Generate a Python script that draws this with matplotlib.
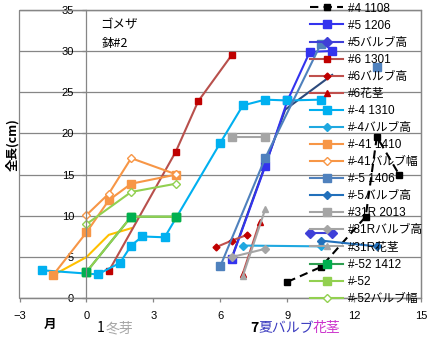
import matplotlib
matplotlib.use('Agg')
import matplotlib.pyplot as plt
import numpy as np
from matplotlib.patches import Rectangle

plt.rcParams['font.family'] = ['Liberation Sans', 'Noto Sans CJK JP', 'DejaVu Sans']
plt.rcParams['axes.unicode_minus'] = True

# ---------------- data ----------------
s4_1108_x = [9, 10.5, 12.5, 13, 14]
s4_1108_y = [2.0, 3.8, 9.9, 19.6, 15.0]

s5_1206_x = [6.5, 8, 9, 10, 11]
s5_1206_y = [4.8, 16.0, 24.0, 29.9, 30.0]

s5_bulb_x = [10, 11]
s5_bulb_y = [7.9, 7.9]

s6_1301_x = [1, 4, 5, 6.5]
s6_1301_y = [3.3, 17.8, 23.9, 29.5]

s6_bulb_x = [5.8, 6.5, 7.2]
s6_bulb_y = [6.2, 7.0, 7.7]

s6_stem_x = [7, 7.75]
s6_stem_y = [3.0, 9.2]

sm4_1310_x = [-2, 0.5, 1.5, 2, 2.5, 3.5, 6, 7, 8, 9, 10.5]
sm4_1310_y = [3.4, 2.9, 4.3, 6.4, 7.5, 7.4, 18.9, 23.4, 24.1, 24.0, 24.1]

sm4_bulb_x = [7, 10.5]
sm4_bulb_y = [6.4, 6.3]

sm41_1410_x = [-1.5, 0, 1, 2, 4]
sm41_1410_y = [2.8, 8.0, 11.9, 13.9, 15.0]

sm41_width_x = [0, 1, 2, 4]
sm41_width_y = [10.1, 12.7, 17.0, 15.05]

sm5_1406_x = [6, 8, 10.5, np.nan, 13]
sm5_1406_y = [3.95, 17.0, 30.9, np.nan, 28.1]

sm5_bulb_x = [10.5, 13]
sm5_bulb_y = [7.0, 6.3]

s31_2013_x = [6.5, 8]
s31_2013_y = [19.6, 19.6]

s31_bulb_x = [6.5, 8]
s31_bulb_y = [5.0, 6.0]

s31_stem_x = [7, 8]
s31_stem_y = [2.7, 10.8]

sm52_1412_x = [0, 2, 4]
sm52_1412_y = [3.2, 9.9, 9.9]

sm52_x = [0, 2, 4]
sm52_y = [3.2, 9.9, 9.9]

sm52_width_x = [0, 2, 4]
sm52_width_y = [9.0, 12.9, 13.9]

yellow_x = [-1.5, 0, 1, 2]
yellow_y = [2.8, 5.0, 7.7, 8.5]

navy_x = [6.5, 8.9, 11]
navy_y = [4.9, 22.9, 27.1]

x_ticks = [-3, 0, 3, 6, 9, 12, 15]
y_ticks = [0, 5, 10, 15, 20, 25, 30, 35]

# ---------------- figure ----------------
W, H = 439, 341
fig = plt.figure(figsize=(W / 100, H / 100), dpi=100)
ax = fig.add_axes([19.5 / W, 1 - 298.3 / H, 402 / W, 288.5 / H])
GRAY = '#868686'

ax.set_xlim(-3, 15)
ax.set_ylim(0, 35)

ax.set_yticks(y_ticks)
ax.set_xticks(x_ticks)
ax.yaxis.grid(True, color=GRAY, lw=0.9)
ax.set_axisbelow(True)

for sp in ['top', 'right', 'bottom']:
    ax.spines[sp].set_color(GRAY)
    ax.spines[sp].set_linewidth(0.9)
ax.spines['left'].set_position(('data', 0))
ax.spines['left'].set_color(GRAY)
ax.spines['left'].set_linewidth(0.9)
ax.add_patch(Rectangle((0, 0), 1, 1, transform=ax.transAxes, fill=False,
                       edgecolor=GRAY, lw=0.9, clip_on=False, zorder=0.5))

ax.tick_params(axis='x', direction='out', length=3, width=0.9, color=GRAY,
               labelsize=8, pad=6)
ax.tick_params(axis='y', direction='out', length=3, width=0.9, color=GRAY,
               labelsize=8, pad=6)

LW = 1.5

def plot(x, y, label, color, marker, ms=5, mfc=None, mec=None, ls='-', dashes=None, z=2):
    kw = dict(color=color, lw=LW, marker=marker, ms=ms,
              mfc=mfc if mfc else color, mec=mec if mec else color,
              ls=ls, label=label, zorder=z)
    ln, = ax.plot(x, y, **kw)
    if dashes:
        ln.set_dashes(dashes)
    return ln

# unlabeled series
ax.plot(yellow_x, yellow_y, color='#ffc000', lw=LW, zorder=1.9, label='_nolegend_')
ax.plot(navy_x, navy_y, color='#2c4a7c', lw=LW, zorder=1.9, label='_nolegend_')

plot(s4_1108_x, s4_1108_y, '#4 1108', 'black', 's', ms=5, dashes=(4, 2.5))
plot(s5_1206_x, s5_1206_y, '#5 1206', '#3333ee', 's', ms=5.5)
plot(s5_bulb_x, s5_bulb_y, '#5バルブ高', '#3f3fd8', 'D', ms=5)
plot(s6_1301_x, s6_1301_y, '#6 1301', '#b8504c', 's', ms=5, mfc='#c00000', mec='#c00000')
plot(s6_bulb_x, s6_bulb_y, '#6バルブ高', '#c0504d', 'D', ms=3.5, mfc='#c00000', mec='#c00000')
plot(s6_stem_x, s6_stem_y, '#6花茎', '#c0504d', '^', ms=5, mfc='#c00000', mec='#c00000')
plot(sm4_1310_x, sm4_1310_y, '#-4 1310', '#00b0f0', 's', ms=5.5)
plot(sm4_bulb_x, sm4_bulb_y, '#-4バルブ高', '#1fa8e0', 'D', ms=4.5)
plot(sm41_1410_x, sm41_1410_y, '#-41 1410', '#f79646', 's', ms=5.5)
plot(sm41_width_x, sm41_width_y, '#-41バルブ幅', '#f79646', 'D', ms=4.5, mfc='white')
plot(sm5_1406_x, sm5_1406_y, '#-5 1406', '#4f81bd', 's', ms=5.5)
plot(sm5_bulb_x, sm5_bulb_y, '#-5バルブ高', '#2270bb', 'D', ms=4.5)
plot(s31_2013_x, s31_2013_y, '#31R 2013', '#a5a5a5', 's', ms=5.5)
plot(s31_bulb_x, s31_bulb_y, '#31Rバルブ高', '#a5a5a5', 'D', ms=4.5)
plot(s31_stem_x, s31_stem_y, '#31R花茎', '#a5a5a5', '^', ms=5)
plot(sm52_1412_x, sm52_1412_y, '#-52 1412', '#2e9e50', 's', ms=5.5, mfc='#00b050', mec='#00b050')
plot(sm52_x, sm52_y, '#-52', '#92d050', 's', ms=5.5)
ax.plot(sm52_1412_x, sm52_1412_y, ls='none', marker='s', ms=5.5, mfc='#00b050',
        mec='#00b050', zorder=2.1, label='_nolegend_')
plot(sm52_width_x, sm52_width_y, '#-52バルブ幅', '#92d050', 'D', ms=4.5, mfc='white')

handles, labels = ax.get_legend_handles_labels()
fig.legend(handles, labels, loc='upper left', bbox_to_anchor=(310 / W, 1 - 2.5 / H),
           frameon=False, fontsize=8.5, handlelength=2.8, handletextpad=0.45,
           labelspacing=0.43, borderpad=0, borderaxespad=0)

def ftext(px, py, s, **kw):
    fig.text(px / W, 1 - py / H, s, **kw)

CJK = ['Noto Sans CJK JP', 'DejaVu Sans']
ftext(12.5, 145, '全長(cm)', rotation=90, ha='center', va='center', fontsize=9,
      fontweight='bold', family=CJK)
ftext(100, 25, 'ゴメザ', ha='left', va='center', fontsize=9, family=CJK)
ftext(102, 44, '鉢#2', ha='left', va='center', fontsize=9, family=CJK)
ftext(50, 324, '月', ha='center', va='center', fontsize=9, fontweight='bold', family=CJK)
ftext(97, 328, '1', ha='left', va='center', fontsize=10, family=CJK)
ftext(106, 328, '冬芽', ha='left', va='center', fontsize=10, color='#a6a6a6', family=CJK)
ftext(250, 328, '7', ha='left', va='center', fontsize=10, family=CJK, fontweight='bold')
ftext(258, 328, '夏バルブ', ha='left', va='center', fontsize=10, color='#3c3cc0', family=CJK)
ftext(313, 328, '花茎', ha='left', va='center', fontsize=10, color='#cc33cc', family=CJK)

fig.savefig('out.png', dpi=100)
